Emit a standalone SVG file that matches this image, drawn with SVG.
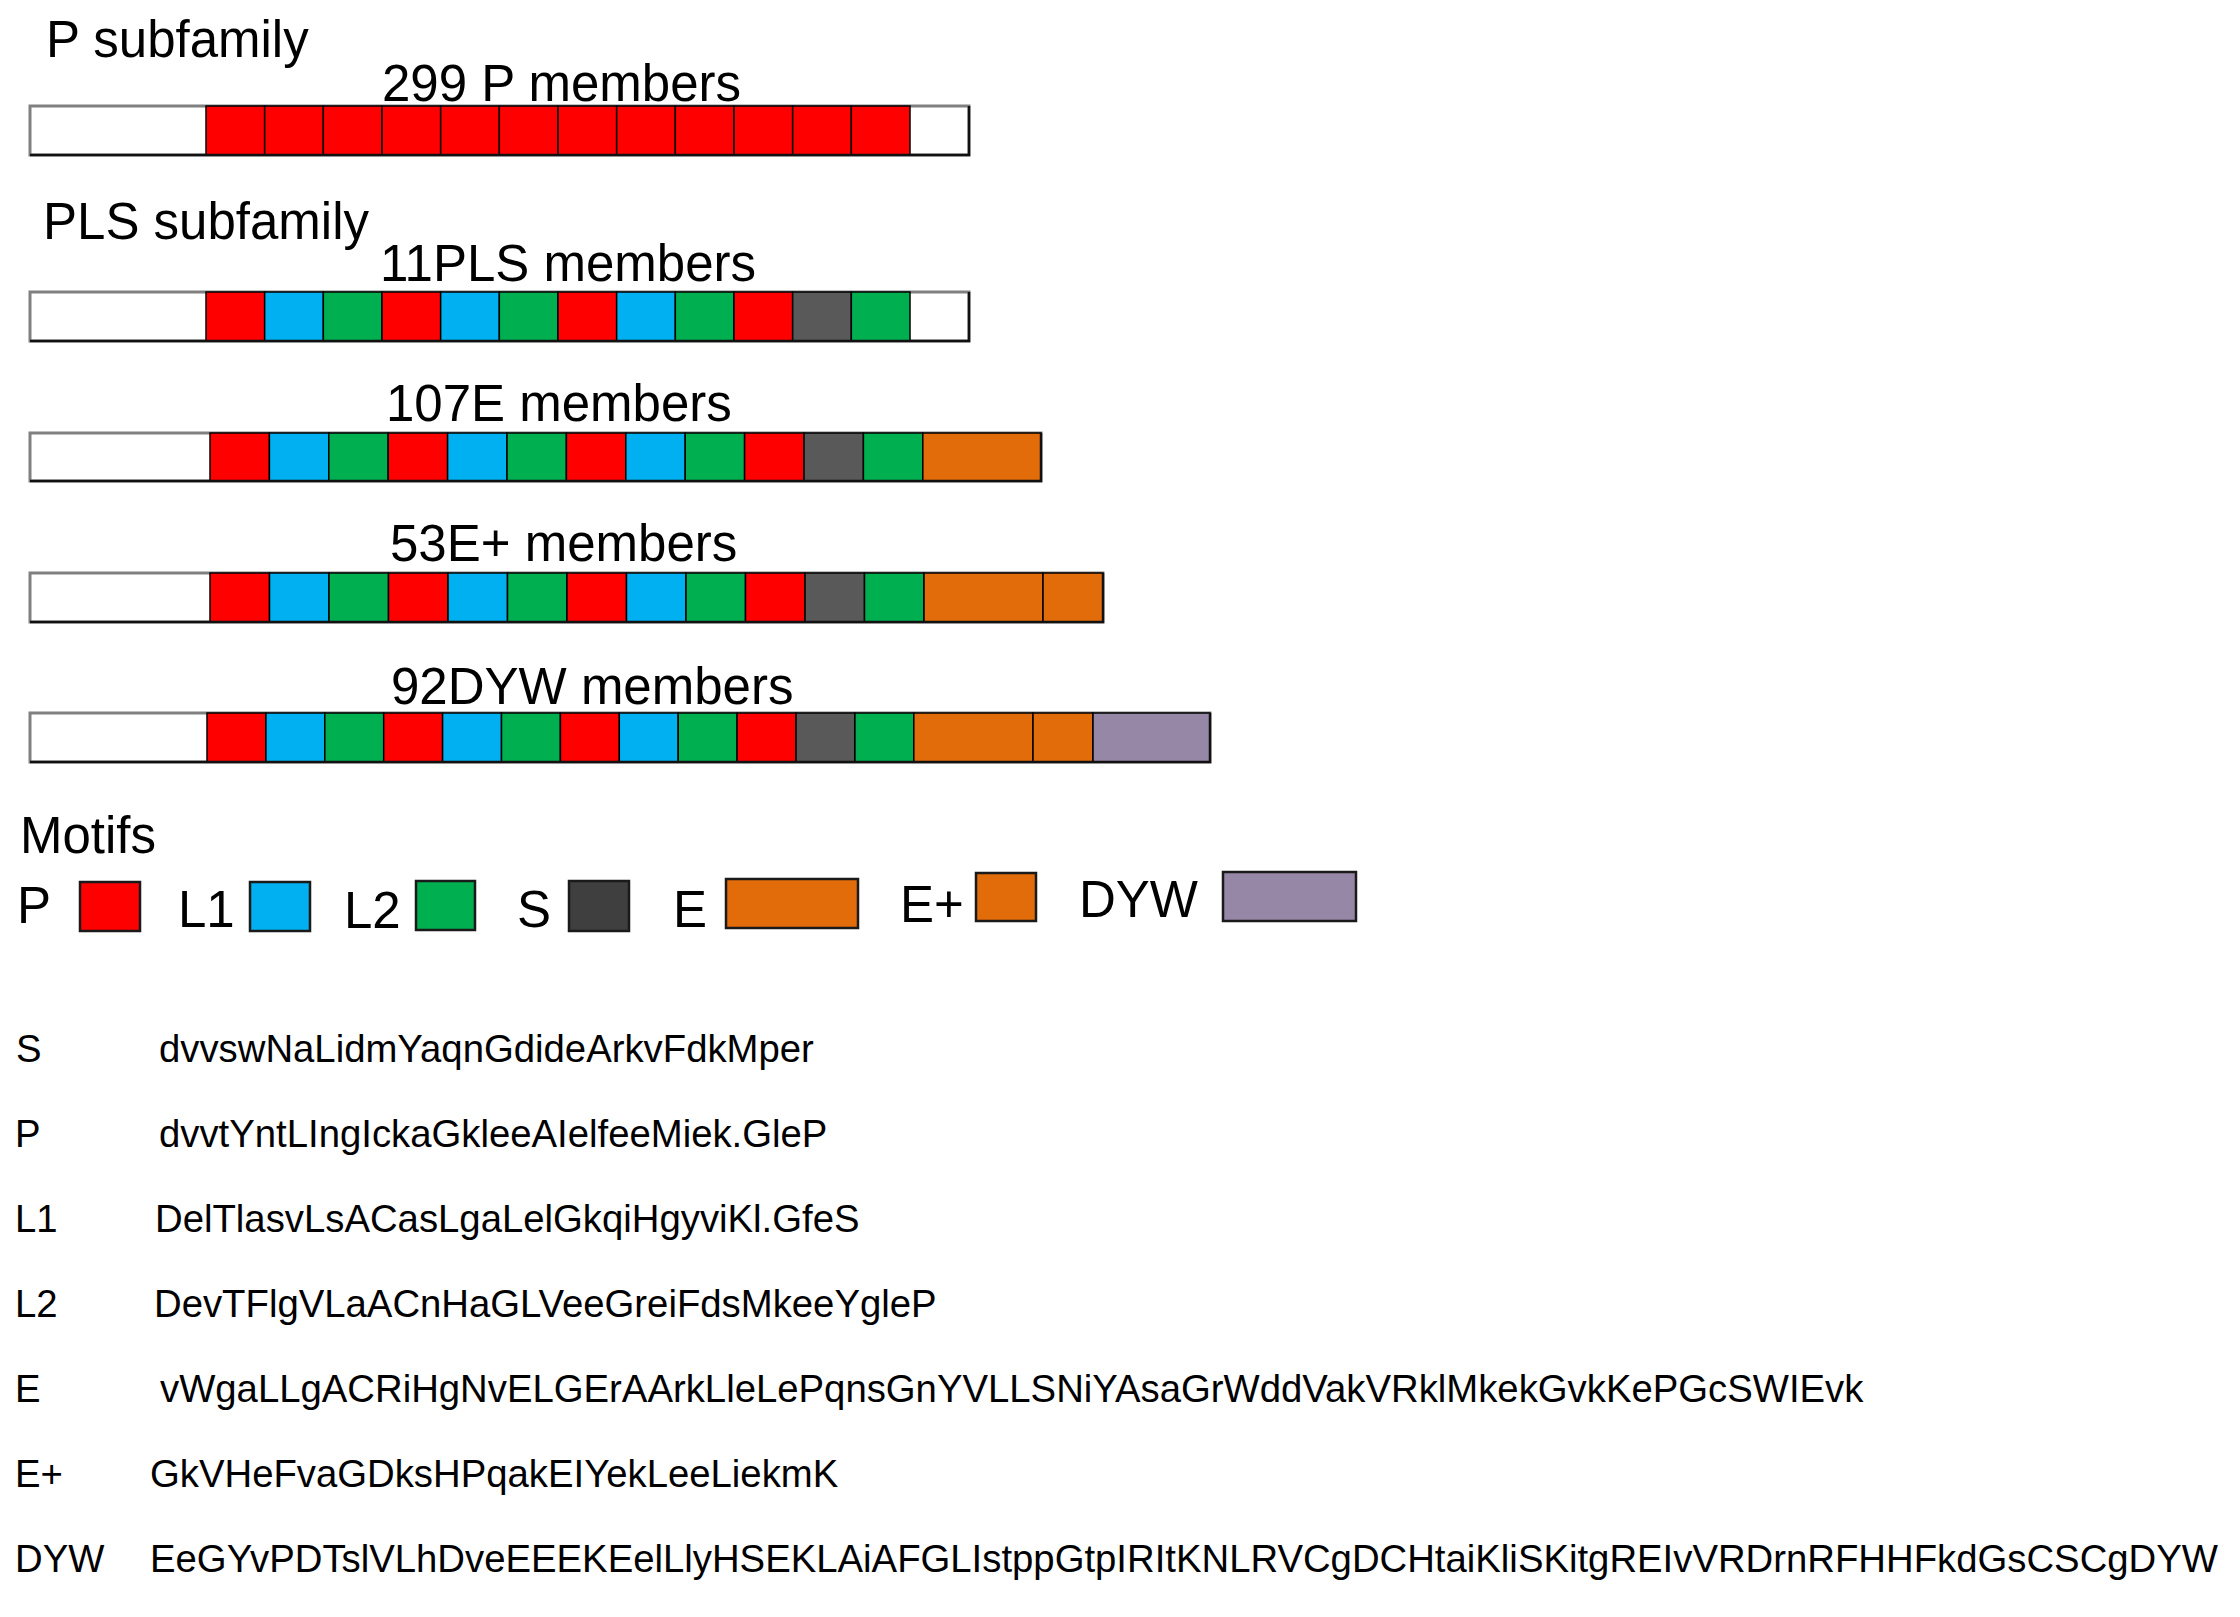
<svg xmlns="http://www.w3.org/2000/svg" width="2240" height="1617" viewBox="0 0 2240 1617">
<style>
text{font-family:"Liberation Sans",Arial,sans-serif;fill:#000}
.h{font-size:51px}
.q{font-size:38.3px}
.bg{fill:#fff;stroke:#808080;stroke-width:3}
.edge{stroke:#111;stroke-width:2.5;fill:none}
.c{stroke:#000;stroke-width:1.5}
.lg{stroke:#1a1a1a;stroke-width:2.5}
.P{fill:#ff0000}.L1{fill:#00b0f0}.L2{fill:#00b050}.S{fill:#595959}.E{fill:#e36c0a}.D{fill:#9787a7}.W{fill:#fff}
</style>
<rect width="2240" height="1617" fill="#fff"/>
<g id="connectors"/>

<g id="p-subfamily">
<text class="h" x="46" y="57">P subfamily</text>
<text class="h" x="382" y="101">299 P members</text>
<rect class="bg" x="30" y="106" width="939" height="49"/>
<rect class="c P" x="206" y="106" width="58.67" height="49"/>
<rect class="c P" x="264.67" y="106" width="58.67" height="49"/>
<rect class="c P" x="323.33" y="106" width="58.67" height="49"/>
<rect class="c P" x="382" y="106" width="58.67" height="49"/>
<rect class="c P" x="440.67" y="106" width="58.67" height="49"/>
<rect class="c P" x="499.33" y="106" width="58.67" height="49"/>
<rect class="c P" x="558" y="106" width="58.67" height="49"/>
<rect class="c P" x="616.67" y="106" width="58.67" height="49"/>
<rect class="c P" x="675.33" y="106" width="58.67" height="49"/>
<rect class="c P" x="734" y="106" width="58.67" height="49"/>
<rect class="c P" x="792.67" y="106" width="58.67" height="49"/>
<rect class="c P" x="851.33" y="106" width="58.67" height="49"/>
<polyline class="edge" points="30,155 969,155 969,106"/>
</g>

<g id="pls-subfamily">
<text class="h" x="43" y="239">PLS subfamily</text>
<text class="h" x="380" y="281">11PLS members</text>
<rect class="bg" x="30" y="292" width="939" height="49"/>
<rect class="c P" x="206" y="292" width="58.67" height="49"/>
<rect class="c L1" x="264.67" y="292" width="58.67" height="49"/>
<rect class="c L2" x="323.33" y="292" width="58.67" height="49"/>
<rect class="c P" x="382" y="292" width="58.67" height="49"/>
<rect class="c L1" x="440.67" y="292" width="58.67" height="49"/>
<rect class="c L2" x="499.33" y="292" width="58.67" height="49"/>
<rect class="c P" x="558" y="292" width="58.67" height="49"/>
<rect class="c L1" x="616.67" y="292" width="58.67" height="49"/>
<rect class="c L2" x="675.33" y="292" width="58.67" height="49"/>
<rect class="c P" x="734" y="292" width="58.67" height="49"/>
<rect class="c S" x="792.67" y="292" width="58.67" height="49"/>
<rect class="c L2" x="851.33" y="292" width="58.67" height="49"/>
<polyline class="edge" points="30,341 969,341 969,292"/>
</g>

<g id="e-members">
<text class="h" x="386" y="421">107E members</text>
<rect class="bg" x="30" y="433" width="1011" height="48"/>
<rect class="c P" x="210" y="433" width="59.4" height="48"/>
<rect class="c L1" x="269.4" y="433" width="59.4" height="48"/>
<rect class="c L2" x="328.8" y="433" width="59.4" height="48"/>
<rect class="c P" x="388.2" y="433" width="59.4" height="48"/>
<rect class="c L1" x="447.6" y="433" width="59.4" height="48"/>
<rect class="c L2" x="507" y="433" width="59.4" height="48"/>
<rect class="c P" x="566.4" y="433" width="59.4" height="48"/>
<rect class="c L1" x="625.8" y="433" width="59.4" height="48"/>
<rect class="c L2" x="685.2" y="433" width="59.4" height="48"/>
<rect class="c P" x="744.6" y="433" width="59.4" height="48"/>
<rect class="c S" x="804" y="433" width="59.4" height="48"/>
<rect class="c L2" x="863.4" y="433" width="59.4" height="48"/>
<rect class="c E" x="922.8" y="433" width="118.2" height="48"/>
<polyline class="edge" points="30,481 1041,481 1041,433"/>
</g>

<g id="eplus-members">
<text class="h" x="390" y="561">53E+ members</text>
<rect class="bg" x="30" y="573" width="1073" height="49"/>
<rect class="c P" x="210" y="573" width="59.5" height="49"/>
<rect class="c L1" x="269.5" y="573" width="59.5" height="49"/>
<rect class="c L2" x="329" y="573" width="59.5" height="49"/>
<rect class="c P" x="388.5" y="573" width="59.5" height="49"/>
<rect class="c L1" x="448" y="573" width="59.5" height="49"/>
<rect class="c L2" x="507.5" y="573" width="59.5" height="49"/>
<rect class="c P" x="567" y="573" width="59.5" height="49"/>
<rect class="c L1" x="626.5" y="573" width="59.5" height="49"/>
<rect class="c L2" x="686" y="573" width="59.5" height="49"/>
<rect class="c P" x="745.5" y="573" width="59.5" height="49"/>
<rect class="c S" x="805" y="573" width="59.5" height="49"/>
<rect class="c L2" x="864.5" y="573" width="59.5" height="49"/>
<rect class="c E" x="924" y="573" width="119" height="49"/>
<rect class="c E" x="1043" y="573" width="60" height="49"/>
<polyline class="edge" points="30,622 1103,622 1103,573"/>
</g>

<g id="dyw-members">
<text class="h" x="391" y="704">92DYW members</text>
<rect class="bg" x="30" y="713" width="1180" height="49"/>
<rect class="c P" x="207" y="713" width="58.9" height="49"/>
<rect class="c L1" x="265.9" y="713" width="58.9" height="49"/>
<rect class="c L2" x="324.8" y="713" width="58.9" height="49"/>
<rect class="c P" x="383.7" y="713" width="58.9" height="49"/>
<rect class="c L1" x="442.6" y="713" width="58.9" height="49"/>
<rect class="c L2" x="501.5" y="713" width="58.9" height="49"/>
<rect class="c P" x="560.4" y="713" width="58.9" height="49"/>
<rect class="c L1" x="619.3" y="713" width="58.9" height="49"/>
<rect class="c L2" x="678.2" y="713" width="58.9" height="49"/>
<rect class="c P" x="737.1" y="713" width="58.9" height="49"/>
<rect class="c S" x="796" y="713" width="58.9" height="49"/>
<rect class="c L2" x="854.9" y="713" width="58.9" height="49"/>
<rect class="c E" x="913.8" y="713" width="119.2" height="49"/>
<rect class="c E" x="1033" y="713" width="60" height="49"/>
<rect class="c D" x="1093" y="713" width="117" height="49"/>
<polyline class="edge" points="30,762 1210,762 1210,713"/>
</g>

<g id="legend">
<text class="h" x="20" y="853">Motifs</text>
<g id="legend-P"><text class="h" x="17" y="923">P</text><rect class="lg P" x="80" y="882" width="60" height="49"/></g>
<g id="legend-L1"><text class="h" x="178" y="927">L1</text><rect class="lg L1" x="250" y="882" width="60" height="49"/></g>
<g id="legend-L2"><text class="h" x="344" y="928">L2</text><rect class="lg L2" x="416" y="881" width="59" height="49"/></g>
<g id="legend-S"><text class="h" x="517" y="927">S</text><rect class="lg" fill="#3f3f3f" x="569" y="881" width="60" height="50"/></g>
<g id="legend-E"><text class="h" x="673" y="927">E</text><rect class="lg E" x="726" y="879" width="132" height="49"/></g>
<g id="legend-Eplus"><text class="h" x="900" y="922">E+</text><rect class="lg E" x="976" y="873" width="60" height="48"/></g>
<g id="legend-DYW"><text class="h" x="1079" y="917">DYW</text><rect class="lg D" x="1223" y="872" width="133" height="49"/></g>
</g>

<g id="sequences">
<g id="seq-S"><text class="q" x="16" y="1062">S</text><text class="q" x="159" y="1062">dvvswNaLidmYaqnGdideArkvFdkMper</text></g>
<g id="seq-P"><text class="q" x="15" y="1147">P</text><text class="q" x="159" y="1147">dvvtYntLIngIckaGkleeAIelfeeMiek.GleP</text></g>
<g id="seq-L1"><text class="q" x="15" y="1232">L1</text><text class="q" x="155" y="1232">DelTlasvLsACasLgaLelGkqiHgyviKl.GfeS</text></g>
<g id="seq-L2"><text class="q" x="15" y="1317">L2</text><text class="q" x="154" y="1317">DevTFlgVLaACnHaGLVeeGreiFdsMkeeYgleP</text></g>
<g id="seq-E"><text class="q" x="15" y="1402">E</text><text class="q" x="160" y="1402">vWgaLLgACRiHgNvELGErAArkLleLePqnsGnYVLLSNiYAsaGrWddVakVRklMkekGvkKePGcSWIEvk</text></g>
<g id="seq-Eplus"><text class="q" x="15" y="1487">E+</text><text class="q" x="150" y="1487">GkVHeFvaGDksHPqakEIYekLeeLiekmK</text></g>
<g id="seq-DYW"><text class="q" x="15" y="1572">DYW</text><text class="q" x="150" y="1572">EeGYvPDTslVLhDveEEEKEelLlyHSEKLAiAFGLIstppGtpIRItKNLRVCgDCHtaiKliSKitgREIvVRDrnRFHHFkdGsCSCgDYW</text></g>
</g>
</svg>
